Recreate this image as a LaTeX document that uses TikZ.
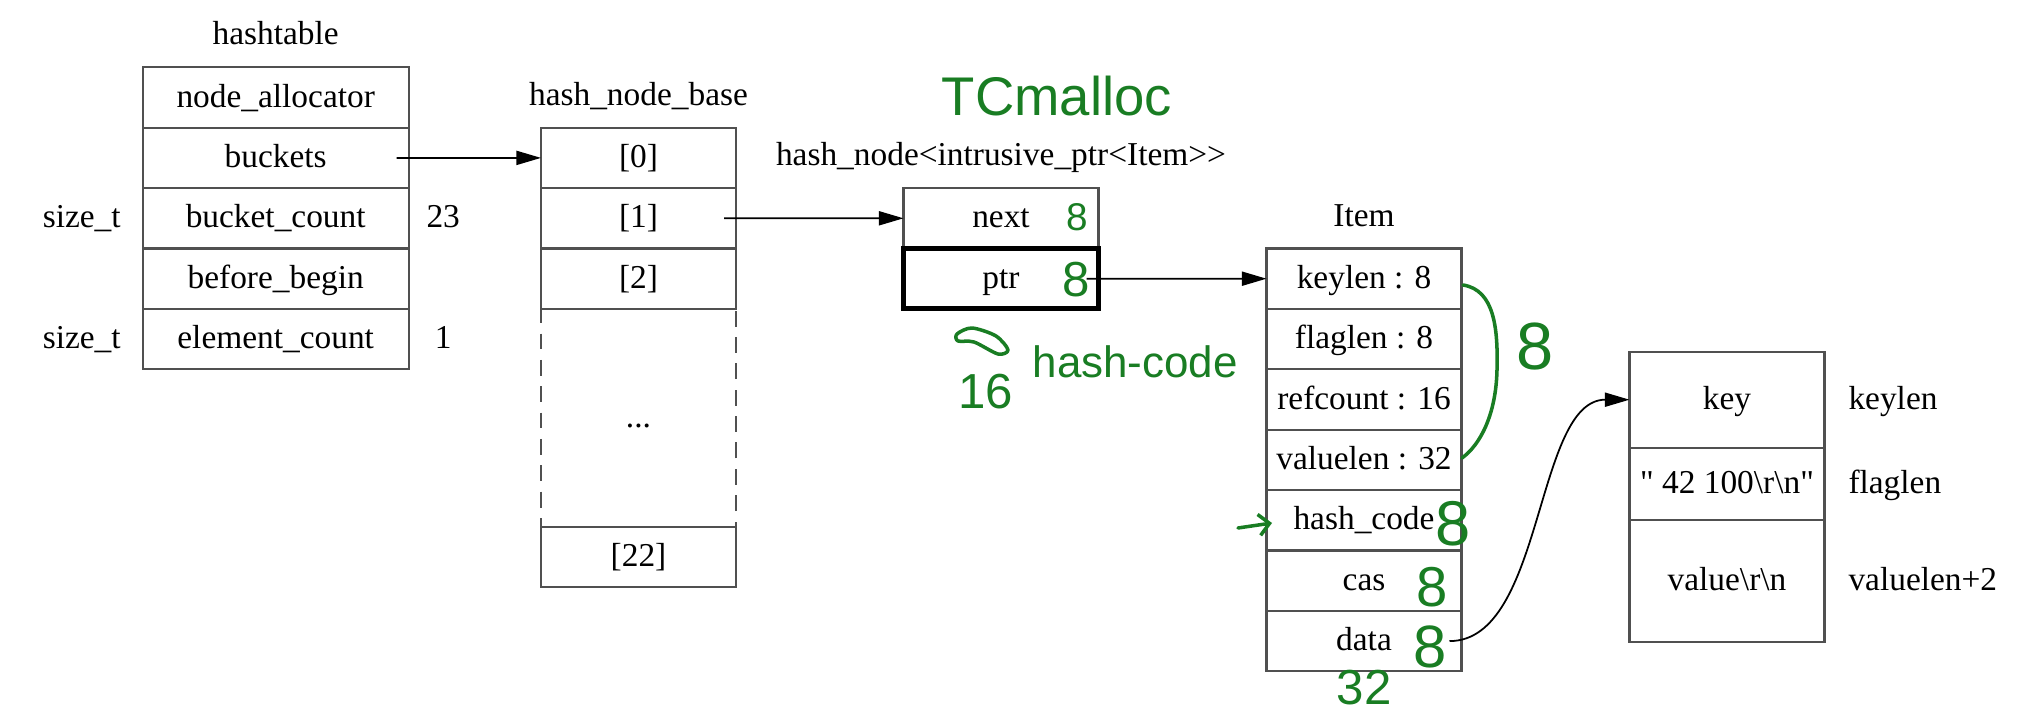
\documentclass[tikz,border=0pt]{standalone}
\usepackage{fontspec}
\setmainfont{Liberation Serif}[Ligatures=TeXOff]
\newfontfamily\handfont{Liberation Sans}
\usetikzlibrary{positioning, arrows.meta}

\definecolor{inkgreen}{RGB}{25,125,35}
\definecolor{rule}{RGB}{80,80,80}

\newcommand{\bsl}{\textbackslash}

\tikzset{
	field/.style={draw=rule, line width=0.6pt, minimum width=1.95cm, minimum height=0.604cm, inner sep=0pt, outer sep=0pt, text height=1.6ex, text depth=0.4ex},
	title/.style={inner sep=0pt, outer sep=0pt, text height=1.6ex, text depth=0.4ex},
	link/.style={-{Triangle[length=7pt, width=4pt]}, line width=0.5pt},
	ink/.style={text=inkgreen, inner sep=0pt, font=\handfont\fontsize{#1}{#1}\selectfont},
	inkline/.style={draw=inkgreen, line width=1pt, line cap=round, line join=round}
}

\begin{document}
\begin{tikzpicture}[font=\fontsize{9.5}{11}\selectfont]
		\useasboundingbox (0,0) rectangle (20.40,-7.16);
		
		%tops of the records
		\coordinate (table top) at (2.757,-0.673);
		\coordinate (base top) at (6.385,-1.277);
		\coordinate (hnode top) at (10.01,-1.881);
		\coordinate (item top) at (13.64,-2.485);
		\coordinate (data top) at (17.27,-3.517);
		
		%hashtable
		\node [field, minimum width=2.66cm, anchor=north] (alloc) at (table top) {node\_allocator};
		\node [field, minimum width=2.66cm, below=0pt of alloc] (buckets) {buckets};
		\node [field, minimum width=2.66cm, below=0pt of buckets] (bcount) {bucket\_count};
		\node [field, minimum width=2.66cm, below=0pt of bcount] (bbegin) {before\_begin};
		\node [field, minimum width=2.66cm, below=0pt of bbegin] (ecount) {element\_count};
		\node [title, above=0.16cm of alloc] (table label) {hashtable};
		\node [title, left=0.22cm of bcount] (bcount type) {size\_t};
		\node [title, left=0.22cm of ecount] (ecount type) {size\_t};
		\node [title, minimum width=0.35cm, right=0.17cm of bcount] (bcount val) {23};
		\node [title, minimum width=0.35cm, right=0.17cm of ecount] (ecount val) {1};
		
		%hash_node_base
		\node [field, anchor=north] (b0) at (base top) {[0]};
		\node [field, below=0pt of b0] (b1) {[1]};
		\node [field, below=0pt of b1] (b2) {[2]};
		\node [field, dash pattern=on 4.5pt off 3pt, minimum height=2.18cm, below=0pt of b2] (bdots) {...};
		\node [field, below=0pt of bdots] (b22) {[22]};
		\node [title, above=0.16cm of b0] (base label) {hash\_node\_base};
		
		%hash_node
		\node [field, anchor=north] (next) at (hnode top) {next};
		\node [field, draw=black, line width=1.4pt, below=0pt of next] (ptr) {ptr};
		\node [title, above=0.16cm of next] (hnode label) {hash\_node<intrusive\_ptr<Item>{}>};
		
		%Item
		\node [field, anchor=north] (keylen) at (item top) {keylen : 8};
		\node [field, below=0pt of keylen] (flaglen) {flaglen : 8};
		\node [field, below=0pt of flaglen] (refcount) {refcount : 16};
		\node [field, below=0pt of refcount] (valuelen) {valuelen : 32};
		\node [field, below=0pt of valuelen] (hashcode) {hash\_code};
		\node [field, below=0pt of hashcode] (cas) {cas};
		\node [field, below=0pt of cas] (data) {data};
		\node [title, above=0.16cm of keylen] (item label) {Item};
		
		%data block
		\node [field, minimum height=0.96cm, anchor=north] (key) at (data top) {key};
		\node [field, minimum height=0.723cm, below=0pt of key] (flags) {" 42 100\bsl r\bsl n"};
		\node [field, minimum height=1.217cm, below=0pt of flags] (value) {value\bsl r\bsl n};
		\node [title, right=0.24cm of key] (key size) {keylen};
		\node [title, right=0.24cm of flags] (flags size) {flaglen};
		\node [title, right=0.24cm of value] (value size) {valuelen+2};
		
		%pointers
		\draw [link] ([xshift=-0.12cm]buckets.east) -- (b0.west);
		\draw [link] ([xshift=-0.12cm]b1.east) -- (next.west);
		\draw [link] ([xshift=-0.12cm]ptr.east) -- (keylen.west);
		\draw [link] ([xshift=-0.12cm]data.east) .. controls +(0.95,0) and +(-0.95,0) .. (key.west);
		
		%handwritten notes
		\node [ink=15.5] (tcmalloc) at (10.57,-0.96) {TCmalloc};
		\node [ink=11] (next size) at (10.77,-2.17) {8};
		\node [ink=14] (ptr size) at (10.76,-2.80) {8};
		\draw [inkline] plot [smooth cycle] coordinates {(9.57,-3.34) (9.72,-3.28) (9.96,-3.36) (10.08,-3.50) (9.98,-3.54) (9.74,-3.42) (9.58,-3.41)};
		\node [ink=14] (hcode size) at (9.86,-3.92) {16};
		\node [ink=12.5, anchor=base west] (hcode note) at (10.32,-3.78) {hash-code};
		\draw [inkline] (14.63,-2.85) .. controls (14.95,-2.90) and (14.98,-3.30) .. (14.97,-3.70) .. controls (14.96,-4.15) and (14.80,-4.45) .. (14.62,-4.58);
		\node [ink=19] (header size) at (15.35,-3.47) {8};
		\draw [inkline, -{Straight Barb[length=3pt, width=6pt]}] (12.38,-5.28) -- (12.72,-5.23);
		\node [ink=18] (hashcode size) at (14.53,-5.24) {8};
		\node [ink=16] (cas size) at (14.32,-5.87) {8};
		\node [ink=17] (data size) at (14.30,-6.47) {8};
		\node [ink=14] (item size) at (13.64,-6.88) {32};
	\end{tikzpicture}
\end{document}
